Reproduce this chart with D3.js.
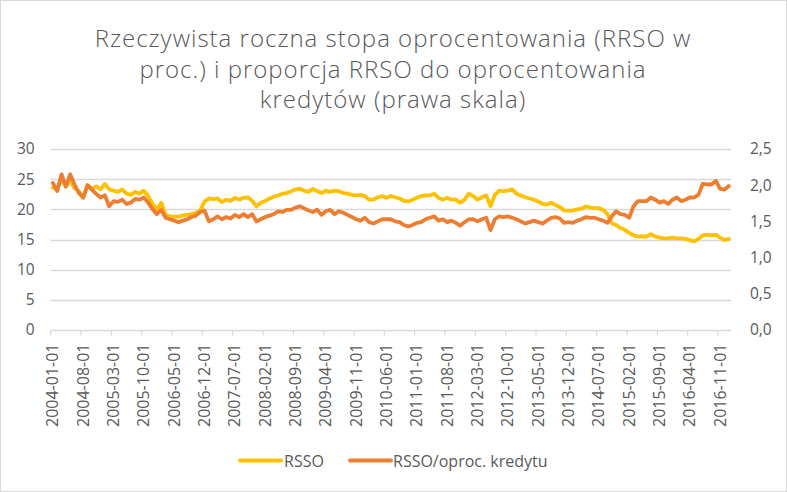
<!DOCTYPE html>
<html>
<head>
<meta charset="utf-8">
<script src="https://cdn.jsdelivr.net/npm/d3@7/dist/d3.min.js"></script>
<style>
  html, body { margin: 0; padding: 0; background: #fff; }
  svg { display: block; }
</style>
</head>
<body>
<svg id="chart" width="787" height="492"></svg>
<script>
// ---- DATA ----
const titleLines = [
  "Rzeczywista roczna stopa oprocentowania (RRSO w",
  "proc.) i proporcja RRSO do oprocentowania",
  "kredytów (prawa skala)"
];
const seriesNames = ["RSSO", "RSSO/oproc. kredytu"];
const firstMonth = "2004-01-01";
const monthCount = 157; // 2004-01 .. 2017-01
const xTickLabels = ["2004-01-01","2004-08-01","2005-03-01","2005-10-01","2006-05-01","2006-12-01",
  "2007-07-01","2008-02-01","2008-09-01","2009-04-01","2009-11-01","2010-06-01","2011-01-01",
  "2011-08-01","2012-03-01","2012-10-01","2013-05-01","2013-12-01","2014-07-01","2015-02-01",
  "2015-09-01","2016-04-01","2016-11-01"];
const leftTicks = [0, 5, 10, 15, 20, 25, 30];
const rightTicks = [0, 0.5, 1.0, 1.5, 2.0, 2.5];

// RRSO (left axis, %)
const rrso = [
  23.6,23.3,25.0,23.8,24.8,23.5,23.0,21.9,24.0,23.4,23.8,23.3,24.2,23.3,23.1,22.9,23.3,22.6,22.4,22.9,
  22.6,23.1,22.2,20.9,20.0,21.1,19.1,18.8,18.8,18.8,19.0,19.1,19.2,19.4,19.8,21.3,21.8,21.7,21.8,21.2,
  21.6,21.4,21.9,21.6,21.9,22.0,21.4,20.5,21.1,21.4,21.8,22.1,22.3,22.6,22.7,23.0,23.3,23.4,23.1,22.9,
  23.4,23.0,22.7,23.1,22.9,23.1,23.0,22.7,22.6,22.4,22.3,22.4,22.2,21.6,21.6,22.0,22.2,21.9,22.2,22.0,
  21.8,21.4,21.3,21.6,21.9,22.2,22.3,22.3,22.6,21.9,21.6,21.9,21.6,21.6,21.1,21.6,22.6,22.2,21.6,22.0,
  22.3,20.5,22.4,23.1,23.0,23.1,23.3,22.6,22.3,22.0,21.8,21.6,21.3,20.9,20.8,21.1,20.7,20.4,19.8,19.8,
  19.8,20.0,20.1,20.5,20.3,20.2,20.2,19.9,19.2,17.7,17.4,16.9,16.6,16.1,15.7,15.5,15.5,15.5,15.9,15.5,
  15.3,15.2,15.2,15.3,15.2,15.2,15.1,14.9,14.7,15.1,15.7,15.8,15.7,15.8,15.3,14.9,15.1
];
// RRSO / loan interest rate (right axis)
const ratio = [
  2.03,1.92,2.15,1.98,2.15,2.01,1.89,1.83,2.00,1.94,1.88,1.83,1.86,1.71,1.78,1.77,1.80,1.74,1.76,1.81,
  1.80,1.83,1.76,1.67,1.60,1.66,1.55,1.53,1.51,1.49,1.51,1.53,1.56,1.58,1.63,1.65,1.50,1.53,1.57,1.53,
  1.56,1.54,1.59,1.56,1.60,1.56,1.60,1.50,1.53,1.56,1.58,1.60,1.64,1.63,1.66,1.66,1.69,1.71,1.68,1.65,
  1.63,1.66,1.59,1.64,1.66,1.60,1.64,1.62,1.59,1.56,1.53,1.51,1.55,1.49,1.47,1.50,1.53,1.53,1.53,1.50,
  1.49,1.45,1.43,1.45,1.48,1.49,1.53,1.55,1.57,1.51,1.53,1.49,1.51,1.48,1.44,1.49,1.53,1.53,1.50,1.53,
  1.55,1.38,1.53,1.57,1.56,1.57,1.55,1.53,1.50,1.47,1.49,1.51,1.49,1.47,1.51,1.55,1.56,1.54,1.48,1.49,
  1.48,1.51,1.53,1.56,1.55,1.55,1.53,1.51,1.48,1.57,1.64,1.60,1.59,1.55,1.71,1.78,1.78,1.78,1.83,1.80,
  1.76,1.78,1.74,1.80,1.83,1.78,1.80,1.83,1.83,1.87,2.02,2.01,2.01,2.06,1.95,1.94,1.99
];

// ---- CATEGORIES ----
const parse = d3.timeParse("%Y-%m-%d");
const fmt = d3.timeFormat("%Y-%m-%d");
const months = d3.timeMonth.range(parse(firstMonth), d3.timeMonth.offset(parse(firstMonth), monthCount)).map(fmt);

// ---- LAYOUT ----
const W = 787, H = 492;
const plot = { left: 50.7, right: 731, top: 149, bottom: 330 };
const textColor = "#595959";
const gridColor = "#D9D9D9";
const colors = ["#FFC000", "#ED7D31"];
const font = "'Open Sans', 'Liberation Sans', sans-serif";

const svg = d3.select("#chart");
svg.append("rect").attr("x", 0.5).attr("y", 0.5).attr("width", W - 1).attr("height", H - 1)
  .attr("fill", "#fff").attr("stroke", gridColor);

const x = d3.scaleBand().domain(months).range([plot.left, plot.right]).paddingInner(0).paddingOuter(0);
const yL = d3.scaleLinear().domain([0, 30]).range([plot.bottom, plot.top]);
const yR = d3.scaleLinear().domain([0, 2.5]).range([plot.bottom, plot.top]);
const cx = d => x(d) + x.bandwidth() / 2;

// Title
svg.append("g").selectAll("text").data(titleLines).join("text")
  .attr("x", 393).attr("y", (d, i) => 47 + i * 30.5)
  .attr("text-anchor", "middle")
  .attr("font-family", font).attr("font-weight", 300).attr("font-size", 24)
  .attr("letter-spacing", 1.0)
  .attr("fill", textColor).text(d => d);

// Gridlines
svg.append("g").selectAll("line").data(leftTicks.filter(t => t > 0)).join("line")
  .attr("x1", plot.left).attr("x2", plot.right)
  .attr("y1", d => Math.round(yL(d)) + 0.5).attr("y2", d => Math.round(yL(d)) + 0.5)
  .attr("stroke", gridColor).attr("stroke-width", 1.3);

// Left axis
const axL = svg.append("g").attr("transform", `translate(${plot.left},0)`)
  .call(d3.axisLeft(yL).tickValues(leftTicks).tickSize(0).tickPadding(16).tickFormat(d3.format("d")));
axL.select(".domain").remove();
axL.selectAll("text").attr("font-family", font).attr("font-size", 15.5).attr("fill", textColor);

// Right axis
const axR = svg.append("g").attr("transform", `translate(${plot.right},0)`)
  .call(d3.axisRight(yR).tickValues(rightTicks).tickSize(0).tickPadding(19)
    .tickFormat(d => d3.format(".1f")(d).replace(".", ",")));
axR.select(".domain").remove();
axR.selectAll("text").attr("font-family", font).attr("font-size", 15.5).attr("fill", textColor);

// Bottom axis
const axB = svg.append("g").attr("transform", `translate(0,${Math.round(plot.bottom) + 0.5})`);
axB.append("line").attr("x1", plot.left).attr("x2", plot.right).attr("stroke", gridColor).attr("stroke-width", 1.3);
axB.selectAll("line.tick").data(xTickLabels).join("line").attr("class", "tick")
  .attr("x1", d => x(d)).attr("x2", d => x(d)).attr("y1", 0).attr("y2", 5)
  .attr("stroke", gridColor).attr("stroke-width", 1.3);
axB.selectAll("text").data(xTickLabels).join("text")
  .attr("transform", d => `translate(${cx(d) + 5.5},${13}) rotate(-90)`)
  .attr("text-anchor", "end")
  .attr("font-family", font).attr("font-size", 16).attr("fill", textColor)
  .text(d => d);

// Lines
const lineL = d3.line().x((d, i) => cx(months[i])).y(d => yL(d));
const lineR = d3.line().x((d, i) => cx(months[i])).y(d => yR(d));
svg.append("path").datum(rrso).attr("d", lineL).attr("fill", "none")
  .attr("stroke", colors[0]).attr("stroke-width", 3.8).attr("stroke-linejoin", "round").attr("stroke-linecap", "round");
svg.append("path").datum(ratio).attr("d", lineR).attr("fill", "none")
  .attr("stroke", colors[1]).attr("stroke-width", 3.8).attr("stroke-linejoin", "round").attr("stroke-linecap", "round");

// Legend
const legendItems = [
  { name: seriesNames[0], color: colors[0], x1: 240, x2: 281, tx: 284 },
  { name: seriesNames[1], color: colors[1], x1: 350, x2: 391, tx: 393 }
];
const lg = svg.append("g");
lg.selectAll("line").data(legendItems).join("line")
  .attr("x1", d => d.x1).attr("x2", d => d.x2).attr("y1", 460.5).attr("y2", 460.5)
  .attr("stroke", d => d.color).attr("stroke-width", 3.8).attr("stroke-linecap", "round");
lg.selectAll("text").data(legendItems).join("text")
  .attr("x", d => d.tx).attr("y", 466.5)
  .attr("font-family", font).attr("font-size", 16).attr("fill", textColor)
  .text(d => d.name);
</script>
</body>
</html>
